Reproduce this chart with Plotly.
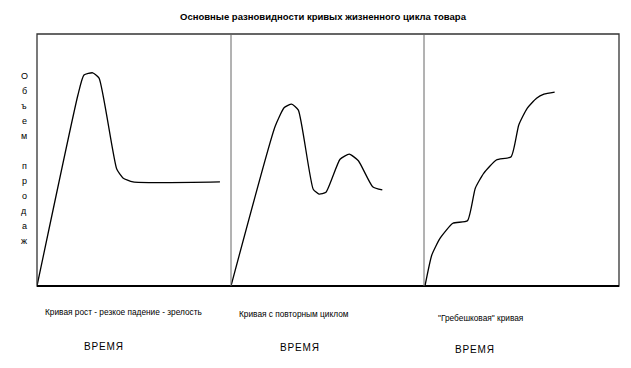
import plotly.graph_objects as go

# ---- data (time units 0-100 per panel, sales volume 0-100) ----
c1_x = [0, 21.1, 24.2, 28.7, 32.0, 41.1, 44.3, 49.5, 94.3]
c1_y = [0, 75.8, 83.7, 84.6, 82.5, 46.4, 42.9, 41.3, 41.3]

c2_x = [0, 22.8, 27.6, 31.4, 34.9, 42.6, 45.6, 49.2, 56.5, 61.3, 66.0, 73.4, 78.4]
c2_y = [0, 63.2, 70.8, 72.2, 69.8, 38.4, 36.5, 37.2, 50.3, 52.3, 49.7, 39.4, 38.1]

c3_x = [0.5, 4.0, 8.2, 14.8, 22.3, 26.3, 30.6, 37.1, 44.7, 48.6, 52.9, 57.7, 61.5, 67.0]
c3_y = [0, 12.3, 18.9, 24.9, 25.9, 38.8, 44.7, 50.0, 51.3, 63.9, 70.5, 74.5, 76.1, 76.9]

title_text = "Основные разновидности кривых жизненного цикла товара"
curve_names = ["Кривая рост - резкое падение - зрелость",
               "Кривая с повторным циклом",
               "\"Гребешковая\" кривая"]
x_label = "В\u200aР\u200aЕ\u200aМ\u200aЯ"
y_label_letters = ["О", "б", "ъ", "е", "м", "", "п", "р", "о", "д", "а", "ж"]

FONT = "Liberation Sans, Arial, sans-serif"

OFF = 8  # page body margin
W, H = 631 - 2 * OFF, 368 - 2 * OFF
L, R, T, B = 37 - OFF, 619 - OFF, 34 - OFF, 286 - OFF
PW, PH = R - L, B - T


def px(x):
    return (x - OFF - L) / PW


def py(y):
    return (B - (y - OFF)) / PH


fig = go.Figure()
doms = [[0, px(231)], [px(231), px(424)], [px(424), 1]]
series = [(c1_x, c1_y), (c2_x, c2_y), (c3_x, c3_y)]
for i, ((xs, ys), d) in enumerate(zip(series, doms)):
    k = "" if i == 0 else str(i + 1)
    fig.add_trace(go.Scatter(x=xs, y=ys, mode="lines",
                             line=dict(color="black", width=1.3, shape="spline", smoothing=0.5),
                             xaxis="x" + k, yaxis="y", showlegend=False, hoverinfo="skip"))
    fig.layout["xaxis" + k] = dict(domain=d, range=[0, 100], visible=False, fixedrange=True)

fig.update_layout(
    width=W, height=H,
    margin=dict(l=L, r=W - R, t=T, b=H - B),
    paper_bgcolor="white", plot_bgcolor="white",
    yaxis=dict(range=[0, 100], visible=False, fixedrange=True),
    title=dict(text=title_text, x=(323 - OFF) / W, xanchor="center",
               y=1 - (17 - OFF) / H, yanchor="middle",
               font=dict(family=FONT, size=9.5, color="black", weight="bold")),
    showlegend=False,
)

shapes = [
    dict(type="rect", xref="paper", yref="paper", x0=0, x1=1, y0=0, y1=1,
         line=dict(color="#333", width=1.3)),
    dict(type="line", xref="paper", yref="paper", x0=0, x1=1, y0=0, y1=0,
         line=dict(color="black", width=2)),
    dict(type="line", xref="paper", yref="paper", x0=px(231), x1=px(231), y0=0, y1=1,
         line=dict(color="#666", width=1)),
    dict(type="line", xref="paper", yref="paper", x0=px(424), x1=px(424), y0=0, y1=1,
         line=dict(color="#666", width=1)),
]
fig.update_layout(shapes=shapes)

ann = []
name_pos = [(43, 312), (237, 314), (436, 318)]
time_pos = [(82, 346), (278, 347), (453, 349)]
for name, (nx, ny) in zip(curve_names, name_pos):
    ann.append(dict(text=name, xref="paper", yref="paper", x=px(nx), y=py(ny),
                    xanchor="left", yanchor="middle", showarrow=False,
                    font=dict(family=FONT, size=8.3, color="black")))
for (tx, ty) in time_pos:
    ann.append(dict(text=x_label, xref="paper", yref="paper", x=px(tx), y=py(ty),
                    xanchor="left", yanchor="middle", showarrow=False,
                    font=dict(family=FONT, size=10, color="black")))
for j, ch in enumerate(y_label_letters):
    if not ch:
        continue
    ann.append(dict(text=ch, xref="paper", yref="paper", x=px(24), y=py(76 + 15 * j),
                    xanchor="center", yanchor="middle", showarrow=False,
                    font=dict(family=FONT, size=9, color="black")))
fig.update_layout(annotations=ann)

fig.write_html("out.html")
